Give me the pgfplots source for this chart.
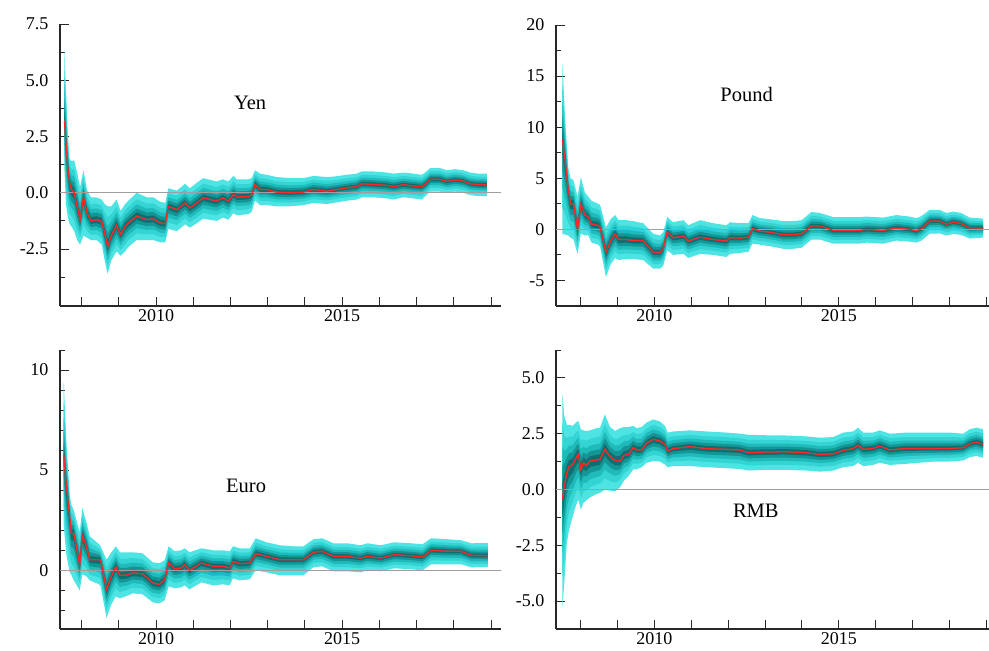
\documentclass[border=0pt]{standalone}
\usepackage{pgfplots}
\pgfplotsset{compat=1.18}
\usepackage{pgfplotstable}
\usepgfplotslibrary{fillbetween}
\usepackage{fontspec}
\setmainfont{Liberation Serif}

\definecolor{f1}{RGB}{78,228,228}
\definecolor{f2}{RGB}{52,212,212}
\definecolor{f3}{RGB}{32,186,186}
\definecolor{f4}{RGB}{20,150,150}
\definecolor{f5}{RGB}{12,112,112}
\definecolor{axcol}{RGB}{40,40,40}

\pgfplotstableread{
x m lo hi
2007.54 3.2 1.0 6.3
2007.58 2.2 -0.5 4.6
2007.63 1.1 -1.1 2.6
2007.68 0.4 -1.4 1.5
2007.73 0.15 -1.5 1.4
2007.80 0.0 -1.7 1.45
2007.88 -0.6 -2.1 0.9
2007.96 -1.2 -2.3 0.25
2008.05 -0.2 -1.9 1.0
2008.15 -0.9 -2.0 0.1
2008.25 -1.25 -2.1 -0.2
2008.40 -1.2 -2.1 -0.2
2008.54 -1.27 -2.3 -0.3
2008.62 -1.8 -3.0 -0.5
2008.70 -2.38 -3.6 -0.6
2008.80 -1.9 -3.0 -0.6
2008.94 -1.45 -2.6 -0.3
2009.05 -1.86 -2.8 -0.8
2009.17 -1.49 -2.6 -0.5
2009.26 -1.34 -2.4 -0.35
2009.48 -1.04 -2.1 0.0
2009.75 -1.19 -2.1 -0.2
2009.93 -1.16 -2.1 -0.2
2010.11 -1.34 -2.2 -0.4
2010.25 -1.37 -2.2 -0.45
2010.33 -0.6 -1.6 0.2
2010.56 -0.75 -1.7 0.1
2010.78 -0.45 -1.4 0.4
2010.91 -0.67 -1.55 0.2
2011.10 -0.45 -1.35 0.45
2011.27 -0.22 -1.15 0.65
2011.63 -0.37 -1.25 0.5
2011.80 -0.22 -1.1 0.6
2011.94 -0.37 -1.2 0.5
2012.08 -0.07 -0.9 0.75
2012.17 -0.19 -1.0 0.6
2012.48 -0.17 -0.95 0.6
2012.57 -0.1 -0.85 0.65
2012.66 0.37 -0.35 1.0
2012.80 0.15 -0.55 0.85
2012.97 0.15 -0.55 0.8
2013.24 0.03 -0.6 0.7
2013.60 0.0 -0.6 0.65
2013.96 0.03 -0.55 0.65
2014.23 0.15 -0.45 0.75
2014.59 0.07 -0.5 0.7
2014.77 0.12 -0.45 0.72
2015.13 0.22 -0.35 0.8
2015.39 0.27 -0.3 0.85
2015.53 0.40 -0.2 0.95
2015.84 0.37 -0.2 0.95
2016.20 0.33 -0.25 0.9
2016.38 0.27 -0.3 0.85
2016.65 0.36 -0.2 0.9
2016.92 0.30 -0.25 0.85
2017.14 0.27 -0.3 0.8
2017.23 0.37 -0.15 0.9
2017.37 0.60 0.05 1.1
2017.63 0.60 0.05 1.1
2017.81 0.50 0.0 1.0
2018.04 0.57 0.05 1.05
2018.26 0.52 0.0 1.0
2018.44 0.40 -0.1 0.9
2018.66 0.36 -0.15 0.85
2018.89 0.35 -0.15 0.85
}\yen

\pgfplotstableread{
x m lo hi
2007.51 8.8 -0.5 16.3
2007.58 6.8 -0.5 11.0
2007.67 3.85 -0.6 6.0
2007.73 2.5 -0.8 5.0
2007.81 2.5 -1.0 4.8
2007.92 0.0 -2.4 3.2
2008.01 2.47 -0.4 5.1
2008.12 1.4 -0.6 3.6
2008.21 1.2 -0.6 3.2
2008.30 0.5 -1.3 2.8
2008.48 0.4 -1.5 2.5
2008.53 0.2 -1.7 2.4
2008.69 -2.24 -4.66 0.2
2008.82 -1.1 -3.4 1.0
2008.94 -0.43 -2.8 1.4
2009.03 -1.0 -3.0 0.9
2009.25 -1.0 -2.9 0.9
2009.43 -1.1 -2.9 0.8
2009.70 -1.1 -3.0 0.6
2009.97 -2.24 -3.84 -0.42
2010.15 -2.3 -3.84 -0.6
2010.24 -1.9 -3.6 -0.3
2010.35 -0.26 -2.05 1.2
2010.51 -0.82 -2.5 0.7
2010.79 -0.66 -2.4 0.9
2010.92 -1.15 -2.8 0.4
2011.24 -0.76 -2.4 0.9
2011.60 -1.0 -2.5 0.6
2011.96 -1.15 -2.7 0.4
2012.05 -0.82 -2.4 0.7
2012.32 -0.86 -2.3 0.6
2012.55 -0.76 -2.2 0.6
2012.66 0.07 -1.4 1.4
2012.86 -0.16 -1.5 1.1
2013.22 -0.33 -1.7 0.95
2013.49 -0.53 -1.9 0.8
2013.76 -0.53 -1.9 0.8
2013.99 -0.43 -1.8 0.9
2014.26 0.33 -1.0 1.7
2014.49 0.33 -1.0 1.6
2014.85 -0.1 -1.4 1.2
2015.21 -0.1 -1.4 1.2
2015.57 -0.1 -1.4 1.2
2015.75 0.0 -1.3 1.25
2016.20 -0.1 -1.4 1.15
2016.56 0.13 -1.1 1.4
2016.92 0.0 -1.2 1.25
2017.10 -0.16 -1.3 1.1
2017.24 0.07 -1.1 1.3
2017.46 0.82 -0.43 1.9
2017.73 0.82 -0.4 1.9
2017.92 0.5 -0.6 1.6
2018.10 0.72 -0.45 1.75
2018.32 0.56 -0.55 1.6
2018.55 0.13 -0.9 1.15
2018.91 0.13 -0.8 1.05
}\pound

\pgfplotstableread{
x m lo hi
2007.52 5.76 2.2 9.37
2007.59 4.2 0.8 6.5
2007.68 2.7 -0.1 3.8
2007.72 1.86 -0.2 3.3
2007.79 1.83 -0.5 3.0
2007.95 0.28 -1.0 1.9
2008.02 1.73 -0.2 3.1
2008.13 1.2 -0.3 2.4
2008.22 0.53 -0.5 1.7
2008.47 0.53 -0.7 1.3
2008.51 0.5 -0.8 1.2
2008.67 -0.96 -2.38 0.53
2008.80 -0.3 -1.7 0.9
2008.92 0.17 -1.3 1.2
2009.03 -0.25 -1.4 0.9
2009.19 -0.25 -1.3 0.9
2009.37 -0.13 -1.15 0.9
2009.64 -0.17 -1.2 0.85
2009.91 -0.63 -1.6 0.4
2010.09 -0.71 -1.65 0.35
2010.23 -0.47 -1.5 0.5
2010.34 0.37 -0.8 1.2
2010.50 0.07 -0.9 0.95
2010.68 0.12 -0.85 1.0
2010.77 0.28 -0.75 1.1
2010.90 0.0 -0.95 0.9
2011.22 0.37 -0.6 1.1
2011.53 0.2 -0.75 1.0
2011.80 0.2 -0.7 1.0
2011.98 0.12 -0.75 0.95
2012.07 0.45 -0.4 1.2
2012.25 0.33 -0.5 1.1
2012.52 0.37 -0.45 1.1
2012.68 0.83 0.0 1.6
2012.97 0.7 -0.1 1.4
2013.33 0.53 -0.25 1.25
2013.69 0.53 -0.25 1.2
2013.96 0.53 -0.25 1.2
2014.23 0.9 0.15 1.55
2014.46 0.95 0.2 1.6
2014.77 0.7 -0.05 1.35
2015.14 0.7 -0.05 1.35
2015.50 0.61 -0.1 1.25
2015.68 0.7 0.0 1.35
2016.04 0.61 -0.05 1.25
2016.40 0.78 0.1 1.4
2016.85 0.73 0.05 1.35
2017.16 0.66 0.0 1.3
2017.39 1.0 0.3 1.6
2017.84 0.95 0.3 1.55
2018.20 0.95 0.3 1.5
2018.47 0.75 0.15 1.35
2018.92 0.73 0.17 1.36
}\euro

\pgfplotstableread{
x m lo hi
2007.51 -0.45 -5.24 4.27
2007.56 0.15 -4.2 3.3
2007.63 0.75 -2.4 2.9
2007.69 1.02 -1.8 2.9
2007.79 1.12 -1.2 2.85
2007.88 1.42 -0.7 3.0
2007.94 1.57 -0.45 3.07
2008.01 0.9 -0.9 2.7
2008.08 1.2 -0.6 2.65
2008.15 1.08 -0.5 2.62
2008.26 1.27 -0.35 2.65
2008.44 1.32 -0.2 2.75
2008.53 1.35 -0.15 2.77
2008.66 1.8 0.0 3.37
2008.80 1.47 -0.05 2.8
2008.94 1.3 -0.07 2.62
2009.07 1.27 0.1 2.75
2009.18 1.53 0.4 2.8
2009.30 1.57 0.6 2.8
2009.43 1.87 0.9 2.85
2009.52 1.77 0.9 2.75
2009.66 1.77 1.0 2.8
2009.79 2.07 1.2 3.0
2009.97 2.25 1.27 3.14
2010.15 2.17 1.25 3.05
2010.29 2.02 1.12 2.85
2010.36 1.72 1.0 2.55
2010.51 1.83 1.05 2.6
2010.97 1.92 1.05 2.65
2011.42 1.83 1.0 2.6
2011.96 1.8 0.95 2.55
2012.32 1.77 0.92 2.5
2012.55 1.65 0.85 2.45
2013.04 1.68 0.88 2.43
2013.58 1.69 0.88 2.42
2014.12 1.65 0.85 2.38
2014.49 1.57 0.8 2.32
2014.85 1.6 0.85 2.35
2015.12 1.75 1.0 2.55
2015.39 1.83 1.05 2.6
2015.52 1.98 1.2 2.77
2015.66 1.8 1.05 2.55
2015.93 1.84 1.1 2.55
2016.11 1.95 1.2 2.65
2016.38 1.77 1.1 2.5
2016.83 1.84 1.15 2.55
2017.19 1.84 1.2 2.55
2017.55 1.83 1.25 2.55
2018.00 1.84 1.25 2.55
2018.37 1.87 1.3 2.5
2018.55 2.05 1.45 2.7
2018.73 2.13 1.5 2.77
2018.91 2.02 1.42 2.7
}\rmb

% one shaded quantile band: table, fraction of outer band, colour, id
\newcommand{\band}[4]{%
  \addplot[name path=U#4, draw=none] table[x=x, y expr={\thisrow{m}+#2*(\thisrow{hi}-\thisrow{m})}]{#1};
  \addplot[name path=L#4, draw=none] table[x=x, y expr={\thisrow{m}+#2*(\thisrow{lo}-\thisrow{m})}]{#1};
  \addplot[fill=#3, draw=none] fill between[of=U#4 and L#4];
}
\newcommand{\fan}[1]{%
  \band{#1}{1.0}{f1}{a}
  \band{#1}{0.72}{f2}{b}
  \band{#1}{0.5}{f3}{c}
  \band{#1}{0.32}{f4}{d}
  \band{#1}{0.16}{f5}{e}
  \addplot[color={rgb,255:red,255;green,40;blue,40}, line width=1.3bp] table[x=x, y=m]{#1};
}

\pgfplotsset{
  fanaxis/.style={
    scale only axis, anchor=south west,
    axis lines=left,
    axis line style={-, line width=1.1bp, axcol},
    tick align=inside,
    tick style={axcol, line width=0.9bp},
    major tick length=9bp, minor tick length=5bp,
    xtick={2008,2009,2010,2011,2012,2013,2014,2015,2016,2017,2018,2019},
    xticklabels={,,2010,,,,,2015,,,,},
    tick label style={font=\fontsize{18bp}{20bp}\selectfont, text=black},
    yticklabel shift=8bp,
    clip=true,
  },
}

\begin{document}
\begin{tikzpicture}

% Yen
\begin{axis}[fanaxis, at={(60bp,345bp)}, width=441bp, height=282bp,
  xmin=2007.42, xmax=2019.27, ymin=-5.03, ymax=7.5,
  ytick={-2.5,0,2.5,5,7.5}, yticklabels={-2.5,0.0,2.5,5.0,7.5},
  minor ytick={-3.75,-1.25,1.25,3.75,6.25}]
  \addplot[gray!75, line width=0.9bp] coordinates {(2007.3,0) (2019.4,0)};
  \fan{\yen}
  \node[font=\fontsize{20.5bp}{22bp}\selectfont] at (axis cs:2012.53,4.0) {Yen};
\end{axis}

% Pound
\begin{axis}[fanaxis, at={(556bp,345bp)}, width=433bp, height=281bp,
  xmin=2007.336, xmax=2019.07, ymin=-7.5, ymax=20,
  ytick={-5,0,5,10,15,20}, yticklabels={-5,0,5,10,15,20},
  minor ytick={-2.5,2.5,7.5,12.5,17.5}]
  \addplot[gray!75, line width=0.9bp] coordinates {(2007.3,0) (2019.4,0)};
  \fan{\pound}
  \node[font=\fontsize{20.5bp}{22bp}\selectfont] at (axis cs:2012.5,13.2) {Pound};
\end{axis}

% Euro
\begin{axis}[fanaxis, at={(60bp,22bp)}, width=441bp, height=279bp,
  xmin=2007.42, xmax=2019.27, ymin=-2.93, ymax=11,
  ytick={0,5,10}, yticklabels={0,5,10},
  minor ytick={-2,-1,1,2,3,4,6,7,8,9,11}]
  \addplot[gray!75, line width=0.9bp] coordinates {(2007.3,0) (2019.4,0)};
  \fan{\euro}
  \node[font=\fontsize{20.5bp}{22bp}\selectfont] at (axis cs:2012.42,4.2) {Euro};
\end{axis}

% RMB
\begin{axis}[fanaxis, at={(556bp,22bp)}, width=433bp, height=279bp,
  xmin=2007.336, xmax=2019.07, ymin=-6.25, ymax=6.25,
  ytick={-5,-2.5,0,2.5,5}, yticklabels={-5.0,-2.5,0.0,2.5,5.0},
  minor ytick={-3.75,-1.25,1.25,3.75,6.25}]
  \addplot[gray!75, line width=0.9bp] coordinates {(2007.3,0) (2019.4,0)};
  \fan{\rmb}
  \node[font=\fontsize{20.5bp}{22bp}\selectfont] at (axis cs:2012.75,-0.96) {RMB};
\end{axis}

\pgfresetboundingbox
\useasboundingbox (0,0) rectangle (989bp,651bp);
\end{tikzpicture}
\end{document}
